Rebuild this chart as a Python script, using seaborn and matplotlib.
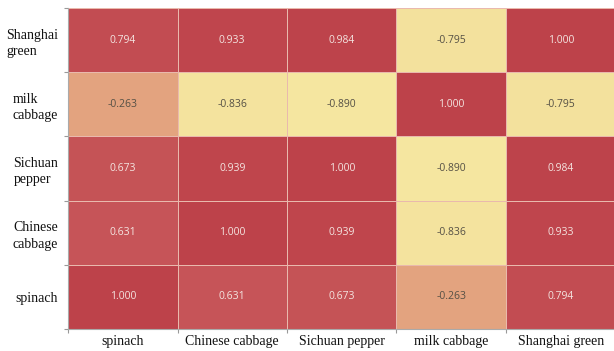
import numpy as np
import pandas as pd
import seaborn as sns
import matplotlib.pyplot as plt
from matplotlib.colors import LinearSegmentedColormap

# Correlation matrix of vegetable prices
col_labels = ["spinach", "Chinese cabbage", "Sichuan pepper", "milk cabbage", "Shanghai green"]
row_labels = ["Shanghai\ngreen", "milk\ncabbage", "Sichuan\npepper", "Chinese\ncabbage", "spinach"]

row_shanghai_green = [0.794, 0.933, 0.984, -0.795, 1.000]
row_milk_cabbage = [-0.263, -0.836, -0.890, 1.000, -0.795]
row_sichuan_pepper = [0.673, 0.939, 1.000, -0.890, 0.984]
row_chinese_cabbage = [0.631, 1.000, 0.939, -0.836, 0.933]
row_spinach = [1.000, 0.631, 0.673, -0.263, 0.794]

corr = pd.DataFrame(
    [row_shanghai_green, row_milk_cabbage, row_sichuan_pepper,
     row_chinese_cabbage, row_spinach],
    index=row_labels, columns=col_labels,
)

vmin, vmax = -0.89, 1.0
mid = (-0.263 - vmin) / (vmax - vmin)
cmap = LinearSegmentedColormap.from_list(
    "yellow_red",
    [(0.0, "#f5e6a0"), (0.06, "#f2e09c"), (mid, "#e3a27f"), (0.75, "#c95a5c"), (1.0, "#bd424a")],
)

sns.set_theme(style="white")

fig = plt.figure(figsize=(6.14, 3.51), dpi=100)
ax = fig.add_axes([68 / 614, 1 - 329 / 351, 547.5 / 614, 321 / 351])

sns.heatmap(
    corr, ax=ax, cmap=cmap, vmin=vmin, vmax=vmax, cbar=False,
    annot=True, fmt=".3f", linewidths=0.5, linecolor="#e9b9ad",
    annot_kws={"fontsize": 7.5, "family": "Open Sans"},
)

# light text on red cells, dark text on pale cells
for txt in ax.texts:
    v = float(txt.get_text())
    txt.set_color("#f4e4e0" if v > 0 else "#555045")

n_rows, n_cols = corr.shape
ax.set_xticks(np.arange(n_cols + 1))
ax.set_yticks(np.arange(n_rows + 1))
ax.set_xticklabels([])
ax.set_yticklabels([])
ax.set_xticks(np.arange(n_cols) + 0.5, minor=True)
ax.set_yticks(np.arange(n_rows) + 0.5, minor=True)
ax.set_xticklabels(col_labels, minor=True, rotation=0,
                   family="Liberation Serif", fontsize=10, color="#111111")
ax.set_yticklabels(row_labels, minor=True, rotation=0,
                   family="Liberation Serif", fontsize=10, color="#111111",
                   ha="right", multialignment="left", linespacing=1.35)
ax.tick_params(which="major", length=3, width=0.8, color="#999999",
               bottom=True, left=True)
ax.tick_params(axis="y", which="minor", length=0, pad=7)
ax.tick_params(axis="x", which="minor", length=0, pad=4)
ax.set_xlabel("")
ax.set_ylabel("")

for side in ["left", "bottom"]:
    ax.spines[side].set_visible(True)
    ax.spines[side].set_color("#aaaaaa")
    ax.spines[side].set_linewidth(0.8)
for side in ["top", "right"]:
    ax.spines[side].set_visible(False)

fig.savefig("out.png", dpi=100)
